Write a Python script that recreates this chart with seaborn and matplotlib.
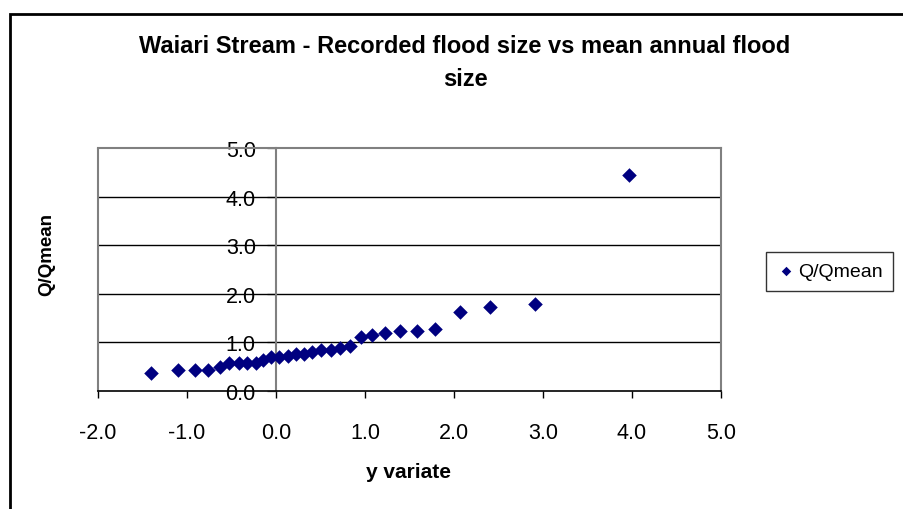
import matplotlib
matplotlib.use("Agg")
import matplotlib.pyplot as plt
from matplotlib.patches import Rectangle
import seaborn as sns
import pandas as pd

# Data
y_variate = [-1.40, -1.10, -0.91, -0.76, -0.63, -0.53, -0.42, -0.33, -0.23, -0.15,
             -0.06, 0.03, 0.13, 0.22, 0.32, 0.41, 0.51, 0.62, 0.72, 0.83,
             0.95, 1.08, 1.22, 1.39, 1.58, 1.79, 2.07, 2.40, 2.91, 3.97]
q_ratio = [0.38, 0.43, 0.43, 0.43, 0.50, 0.57, 0.57, 0.57, 0.57, 0.64,
           0.70, 0.69, 0.73, 0.76, 0.76, 0.80, 0.85, 0.85, 0.89, 0.92,
           1.12, 1.16, 1.19, 1.23, 1.23, 1.27, 1.62, 1.73, 1.78, 4.44]
x_ticks = [-2.0, -1.0, 0.0, 1.0, 2.0, 3.0, 4.0, 5.0]
y_ticks = [0.0, 1.0, 2.0, 3.0, 4.0, 5.0]

df = pd.DataFrame({"y variate": y_variate, "Q/Qmean": q_ratio})

sns.set_style("white")
plt.rcParams["font.family"] = ["Liberation Sans", "DejaVu Sans"]
plt.rcParams["text.color"] = "black"
plt.rcParams["xtick.color"] = "black"
plt.rcParams["ytick.color"] = "black"
plt.rcParams["xtick.labelcolor"] = "black"
plt.rcParams["ytick.labelcolor"] = "black"

W, H = 904, 510
fig = plt.figure(figsize=(W / 100, H / 100), dpi=100)
left, right, top, bottom = 98, 721, 149, 392
ax = fig.add_axes([left / W, 1 - bottom / H, (right - left) / W, (bottom - top) / H])

sns.scatterplot(data=df, x="y variate", y="Q/Qmean", ax=ax, marker="D",
                color="#000080", edgecolor="#000080", s=55, linewidth=0,
                label="Q/Qmean", zorder=5, clip_on=False)

ax.set_xlim(-2, 5)
ax.set_ylim(0, 5)
ax.set_xticks(x_ticks)
ax.set_yticks(y_ticks)
ax.set_xticklabels([f"{v:.1f}" for v in x_ticks])
ax.set_yticklabels([f"{v:.1f}" for v in y_ticks])

# gridlines at y=1..4
for yv in y_ticks[1:-1]:
    ax.axhline(yv, color="#000000", lw=1.0, zorder=1)

# frame
for s in ["top", "right"]:
    ax.spines[s].set_color("#808080")
    ax.spines[s].set_linewidth(1.5)
ax.spines["bottom"].set_color("#000000")
ax.spines["bottom"].set_linewidth(1.2)
ax.spines["left"].set_position(("data", 0))
ax.spines["left"].set_color("#808080")
ax.spines["left"].set_linewidth(1.5)
ax.axvline(-2, color="#808080", lw=1.5, zorder=2, clip_on=False)

ax.tick_params(axis="x", direction="out", length=5, width=1, color="#000000",
               labelsize=15.5, pad=17, bottom=True, labelcolor="black")
ax.tick_params(axis="y", direction="out", length=6.5, width=1, color="#808080",
               labelsize=15.5, pad=8, left=True, labelcolor="black")

ax.set_xlabel("")
ax.set_ylabel("")
fig.text(409 / W, 1 - 472 / H, "y variate", ha="center", va="center",
         fontsize=15, fontweight="bold", color="black")
fig.text(47 / W, 1 - 254 / H, "Q/Qmean", ha="center", va="center",
         fontsize=13.5, fontweight="bold", rotation=90, color="black")
fig.text(465 / W, 1 - 63 / H,
         "Waiari Stream - Recorded flood size vs mean annual flood\nsize",
         ha="center", va="center", fontsize=17, fontweight="bold",
         linespacing=1.6, color="black")

leg = ax.legend(loc="center left", bbox_to_anchor=(766 / W, 1 - 272 / H),
                bbox_transform=fig.transFigure, borderaxespad=0, frameon=True,
                fancybox=False, fontsize=14, handletextpad=0.1,
                handlelength=1.0, borderpad=0.55, markerscale=0.65)
leg.get_frame().set_edgecolor("#000000")
leg.get_frame().set_linewidth(1.0)
for t in leg.get_texts():
    t.set_color("black")

# outer chart border
fig.add_artist(Rectangle((9.5 / W, -0.1), 1.2, 1.1 - 14.5 / H,
                         transform=fig.transFigure, fill=False,
                         edgecolor="#000000", lw=2.0))

fig.savefig("out.png", dpi=100)
